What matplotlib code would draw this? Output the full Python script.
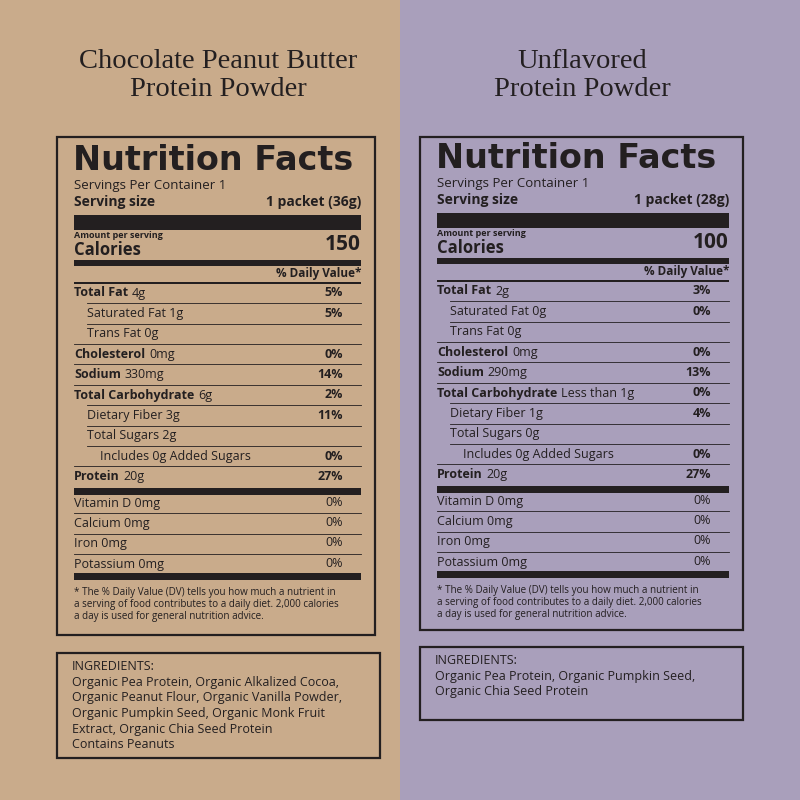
import matplotlib
matplotlib.use("Agg")
import matplotlib.pyplot as plt
from matplotlib.patches import Rectangle

titles = [["Chocolate Peanut Butter", "Protein Powder"], ["Unflavored", "Protein Powder"]]
serving = ["1 packet (36g)", "1 packet (28g)"]
calories = ["150", "100"]
nutr_names = ["Total Fat", "Saturated Fat", "Trans Fat", "Cholesterol", "Sodium",
              "Total Carbohydrate", "Dietary Fiber", "Total Sugars", "Includes 0g Added Sugars", "Protein"]
nutr_bold = [True, False, False, True, True, True, False, False, False, True]
nutr_indent = [0, 1, 1, 0, 0, 0, 1, 1, 2, 0]
amounts = [["4g", "1g", "0g", "0mg", "330mg", "6g", "3g", "2g", "", "20g"],
           ["2g", "0g", "0g", "0mg", "290mg", "Less than 1g", "1g", "0g", "", "20g"]]
dvs = [["5%", "5%", "", "0%", "14%", "2%", "11%", "", "0%", "27%"],
       ["3%", "0%", "", "0%", "13%", "0%", "4%", "", "0%", "27%"]]
vit_names = ["Vitamin D 0mg", "Calcium 0mg", "Iron 0mg", "Potassium 0mg"]
vit_dv = [["0%", "0%", "0%", "0%"], ["0%", "0%", "0%", "0%"]]
ingredients = [["INGREDIENTS:", "Organic Pea Protein, Organic Alkalized Cocoa,", "Organic Peanut Flour, Organic Vanilla Powder,",
                "Organic Pumpkin Seed, Organic Monk Fruit", "Extract, Organic Chia Seed Protein", "Contains Peanuts"],
               ["INGREDIENTS:", "Organic Pea Protein, Organic Pumpkin Seed,", "Organic Chia Seed Protein"]]
footnote = ["* The % Daily Value (DV) tells you how much a nutrient in", "a serving of food contributes to a daily diet. 2,000 calories",
            "a day is used for general nutrition advice."]

bgs = ["#c9ab8b", "#a99fbb"]
ink = "#231f20"
SANS = "Open Sans"

fig = plt.figure(figsize=(8, 8), dpi=100)
ax = fig.add_axes([0, 0, 1, 1])
ax.set_xlim(0, 800); ax.set_ylim(800, 0); ax.axis("off")
fig.canvas.draw()
rend = fig.canvas.get_renderer()

def T(x, y, s, size=9.5, bold=False, ha="left", fam=SANS, va="center"):
    return ax.text(x, y, s, fontsize=size, fontweight="bold" if bold else "normal", ha=ha, va=va,
                   color=ink, family=fam)

def bar(x0, x1, y, h):
    ax.add_patch(Rectangle((x0, y - h / 2), x1 - x0, h, color=ink, lw=0))

for p in range(2):
    ax.add_patch(Rectangle((400 * p, 0), 400, 800, color=bgs[p], lw=0, zorder=-1))
    bx = [57, 420][p]; bw = [318, 323][p]
    dy = [0, -2][p]
    ingy = [653, 647][p]; ingh = [105, 73][p]
    cx = [218, 582][p]
    T(cx, 62, titles[p][0], size=20.5, fam="Liberation Serif", ha="center")
    T(cx, 89, titles[p][1], size=20.5, fam="Liberation Serif", ha="center")
    ax.add_patch(Rectangle((bx, 137), bw, [498, 493][p], fill=False, ec=ink, lw=1.6))
    L = bx + 17; R = bx + bw - 14
    T(L - 1, 160 + dy, "Nutrition Facts", size=24, bold=True, fam="DejaVu Sans")
    T(L, 186 + dy, "Servings Per Container 1", size=9.5)
    T(L, 202 + dy, "Serving size", size=10, bold=True)
    T(R, 202 + dy, serving[p], size=10, bold=True, ha="right")
    bar(L, R, 222 + dy, 15)
    T(L, 236 + dy, "Amount per serving", size=6.5, bold=True)
    T(L, 250 + dy, "Calories", size=12, bold=True)
    T(R, 245 + dy, calories[p], size=15, bold=True, ha="right")
    bar(L, R, 263 + dy, 6)
    T(R, 273 + dy, "% Daily Value*", size=8.5, bold=True, ha="right")
    bar(L, R, 283 + dy, 1.5)
    step = 20.4
    for i, nm in enumerate(nutr_names):
        y = 293 + dy + i * step
        x = L + [0, 13, 26][nutr_indent[i]]
        if nutr_bold[i]:
            t = T(x, y, nm, size=9, bold=True)
            wpx = t.get_window_extent(renderer=rend).width
            T(x + wpx + 4, y, amounts[p][i], size=9)
        else:
            T(x, y, (nm + " " + amounts[p][i]).strip(), size=9)
        T(R - 18, y, dvs[p][i], size=9, bold=True, ha="right")
        if i < len(nutr_names) - 1:
            lx = L + (13 if nutr_indent[i + 1] else 0)
            ax.plot([lx, R], [y + step / 2, y + step / 2], color=ink, lw=0.6)
    bar(L, R, 491 + dy, 7)
    for j, nm in enumerate(vit_names):
        y = 503 + dy + j * step
        T(L, y, nm, size=9)
        T(R - 18, y - 1, vit_dv[p][j], size=9, ha="right")
        if j < 3:
            ax.plot([L, R], [y + step / 2, y + step / 2], color=ink, lw=0.6)
    bar(L, R, 576 + dy, 7)
    for k, ln in enumerate(footnote):
        T(L, 593 + dy + k * 11.5, ln, size=7.1)
    ax.add_patch(Rectangle((bx, ingy), 323, ingh, fill=False, ec=ink, lw=1.6))
    for k, ln in enumerate(ingredients[p]):
        T(bx + 15, ingy + 14 + k * 15.5, ln, size=9)

fig.savefig("out.png", dpi=100)
